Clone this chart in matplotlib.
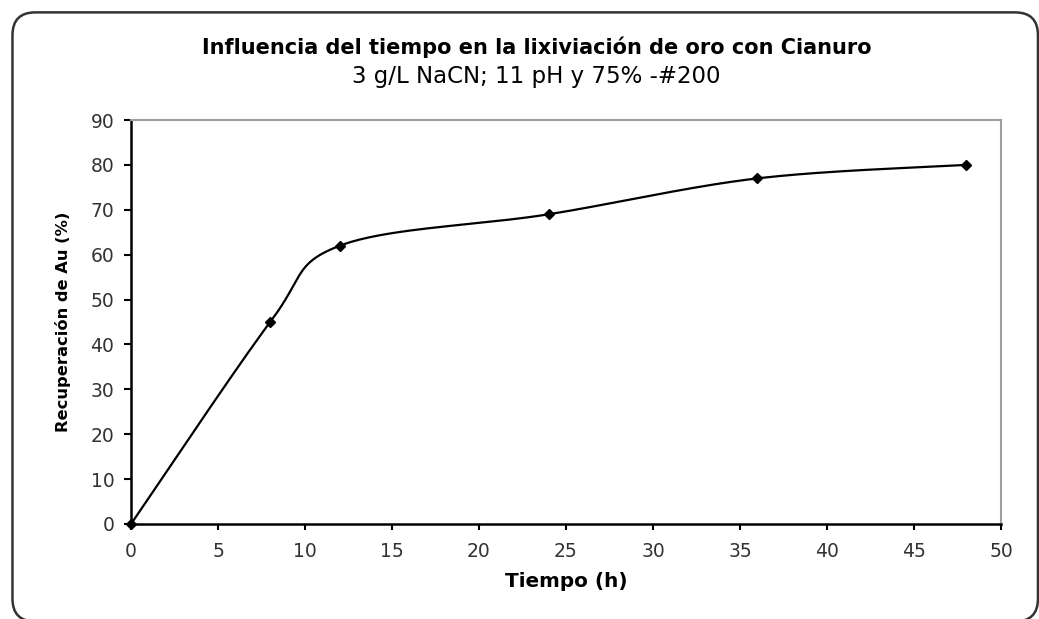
import numpy as np
import matplotlib.pyplot as plt
from matplotlib.patches import FancyBboxPatch

tiempo = [0, 8, 12, 24, 36, 48]
recuperacion = [0, 45, 62, 69, 77, 80]


def suavizar(x, y, n=40):
    # curva suavizada tipo Excel (Bezier con tension 1/6)
    p = np.column_stack([x, y]).astype(float)
    p = np.vstack([p[0], p, p[-1]])
    t = np.linspace(0, 1, n)[:, None]
    out = []
    for i in range(1, len(p) - 2):
        p0, p1, p2, p3 = p[i - 1], p[i], p[i + 1], p[i + 2]
        c1 = p1 + (p2 - p0) / 6
        c2 = p2 - (p3 - p1) / 6
        seg = ((1 - t) ** 3) * p1 + 3 * ((1 - t) ** 2) * t * c1 + 3 * (1 - t) * t ** 2 * c2 + t ** 3 * p2
        out.append(seg)
    out = np.vstack(out)
    return out[:, 0], out[:, 1]


fig = plt.figure(figsize=(10.39, 6.19), dpi=100)
borde = FancyBboxPatch((0.012, -0.004), 0.987, 0.984, boxstyle="round,pad=0,rounding_size=0.022",
                       transform=fig.transFigure, fill=False, edgecolor='#333333', linewidth=1.8,
                       mutation_aspect=1039 / 619)
fig.patches.append(borde)

ax = fig.add_axes([0.1261, 0.1535, 0.8373, 0.6526])
xs, ys = suavizar(tiempo, recuperacion)
ax.plot(xs, ys, color='black', linewidth=1.6, zorder=3)
ax.plot(tiempo, recuperacion, linestyle='none', marker='D', markersize=5.5, color='black', zorder=4, clip_on=False)

ax.set_xlim(0, 50)
ax.set_ylim(0, 90)
ax.set_xticks(range(0, 51, 5))
ax.set_yticks(range(0, 91, 10))
ax.tick_params(direction='out', length=5, width=1.5, labelsize=13.5, colors='black', labelcolor='#333333')
ax.tick_params(axis='x', pad=9, length=4)
ax.tick_params(axis='y', pad=7)
for s in ['top', 'right']:
    ax.spines[s].set_color('#a0a0a0')
    ax.spines[s].set_linewidth(1.5)
for s in ['left', 'bottom']:
    ax.spines[s].set_color('black')
    ax.spines[s].set_linewidth(1.8)

ax.set_xlabel('Tiempo (h)', fontsize=14.4, fontweight='bold', labelpad=8)
ax.set_ylabel('Recuperación de Au (%)', fontsize=11.7, fontweight='bold', labelpad=14)

fig.text(0.5165, 0.924, 'Influencia del tiempo en la lixiviación de oro con Cianuro',
         ha='center', va='center', fontsize=15, fontweight='bold')
fig.text(0.5165, 0.876, '3 g/L NaCN; 11 pH y 75% -#200', ha='center', va='center', fontsize=16.5)

fig.savefig('out.png', dpi=100)
